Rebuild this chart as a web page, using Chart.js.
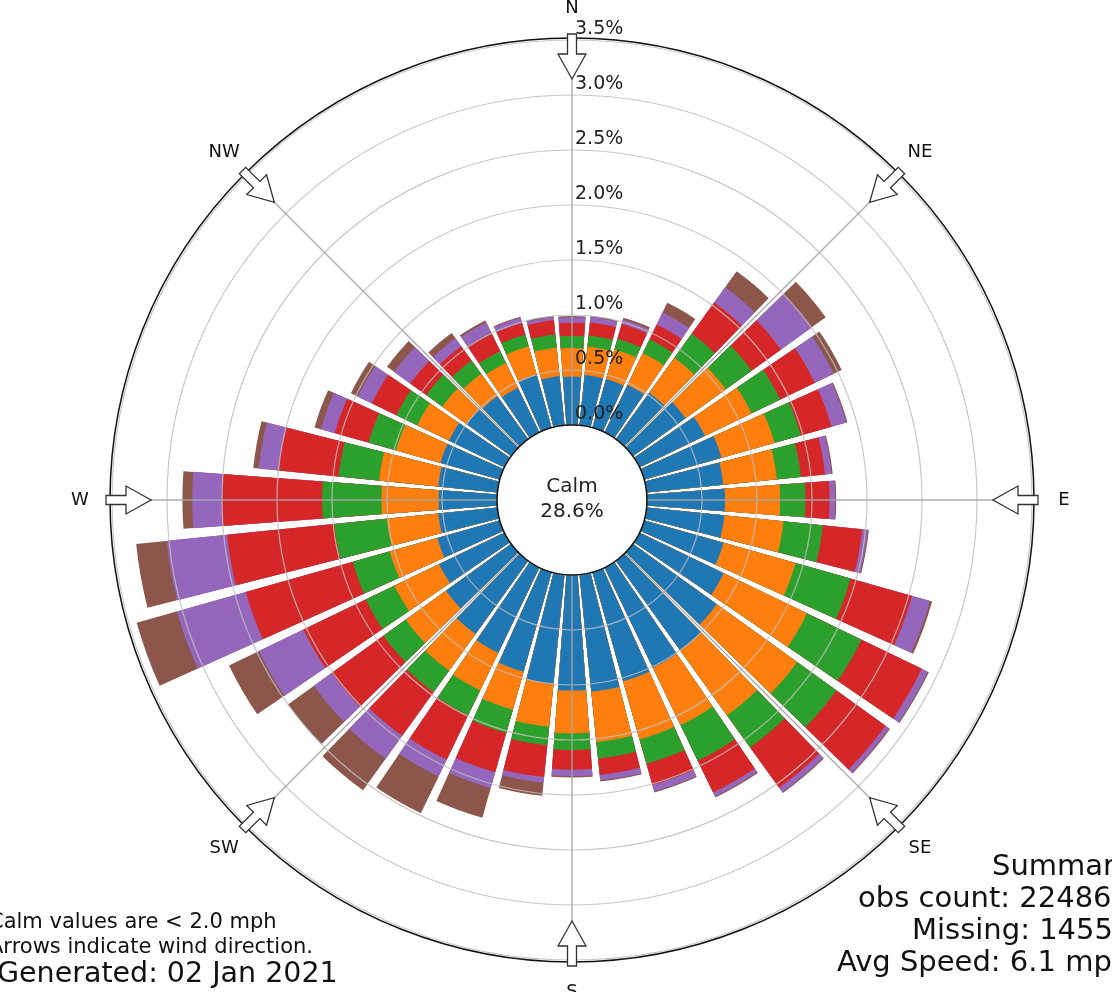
<!DOCTYPE html>
<html>
<head>
<meta charset="utf-8">
<script src="https://cdn.jsdelivr.net/npm/chart.js@4.4.1/dist/chart.umd.min.js"></script>
<style>
  html, body { margin: 0; padding: 0; background: #fff; }
  #wrap { width: 1112px; height: 992px; overflow: hidden; }
</style>
</head>
<body>
<div id="wrap"><canvas id="rose" width="1112" height="992"></canvas></div>
<script>
// wind directions, degrees clockwise from north
const directions = [0, 10, 20, 30, 40, 50, 60, 70, 80, 90, 100, 110, 120, 130, 140, 150, 160, 170,
  180, 190, 200, 210, 220, 230, 240, 250, 260, 270, 280, 290, 300, 310, 320, 330, 340, 350];

// frequency (%) per speed bin, one value per direction
const bin1 = [0.44, 0.46, 0.46, 0.48, 0.52, 0.59, 0.66, 0.73, 0.70, 0.71, 0.71, 0.75, 0.85, 0.94, 1.00, 1.01, 1.03, 1.07,
  1.05, 1.00, 0.94, 0.86, 0.82, 0.73, 0.66, 0.59, 0.54, 0.53, 0.54, 0.56, 0.56, 0.50, 0.48, 0.45, 0.50, 0.45];
const bin2 = [0.26, 0.26, 0.28, 0.32, 0.39, 0.45, 0.47, 0.50, 0.49, 0.50, 0.54, 0.68, 0.84, 0.90, 0.73, 0.58, 0.55, 0.46,
  0.39, 0.39, 0.36, 0.38, 0.41, 0.45, 0.45, 0.45, 0.47, 0.52, 0.54, 0.42, 0.32, 0.27, 0.25, 0.25, 0.27, 0.26];
const bin3 = [0.11, 0.10, 0.10, 0.14, 0.27, 0.29, 0.29, 0.25, 0.22, 0.23, 0.36, 0.52, 0.55, 0.44, 0.36, 0.36, 0.23, 0.15,
  0.15, 0.17, 0.22, 0.25, 0.24, 0.25, 0.29, 0.35, 0.48, 0.54, 0.37, 0.26, 0.21, 0.18, 0.15, 0.12, 0.11, 0.12];
const bin4 = [0.12, 0.12, 0.14, 0.15, 0.35, 0.33, 0.35, 0.29, 0.22, 0.22, 0.36, 0.58, 0.61, 0.55, 0.45, 0.32, 0.20, 0.15,
  0.18, 0.29, 0.37, 0.45, 0.49, 0.58, 0.63, 1.01, 0.98, 0.91, 0.55, 0.32, 0.25, 0.18, 0.16, 0.18, 0.11, 0.13];
const bin5 = [0.05, 0.05, 0.04, 0.12, 0.17, 0.34, 0.19, 0.14, 0.06, 0.05, 0.05, 0.17, 0.06, 0.04, 0.05, 0.04, 0.06, 0.05,
  0.06, 0.05, 0.15, 0.17, 0.26, 0.20, 0.45, 0.65, 0.55, 0.27, 0.18, 0.13, 0.14, 0.18, 0.09, 0.11, 0.05, 0.03];
const bin6 = [0.01, 0.01, 0.02, 0.10, 0.18, 0.16, 0.08, 0.01, 0.01, 0.01, 0.01, 0.02, 0.01, 0.01, 0.01, 0.01, 0.01, 0.01,
  0.01, 0.12, 0.28, 0.37, 0.35, 0.29, 0.30, 0.38, 0.28, 0.09, 0.05, 0.06, 0.07, 0.08, 0.06, 0.02, 0.01, 0.01];

const binColors = ['#1f77b4', '#ff7f0e', '#2ca02c', '#d62728', '#9467bd', '#8c564b'];
const rTicks = [0, 0.5, 1.0, 1.5, 2.0, 2.5, 3.0, 3.5];
const compass = ['N', 'NE', 'E', 'SE', 'S', 'SW', 'W', 'NW'];
const calmPct = 28.6;

const BAR_DEG = 8.5;
const GAP_DEG = 1.5;
const CALM_OFFSET = 0.682; // room left for the calm circle, in % units
const FONT = "'DejaVu Sans', sans-serif";

// polar area arcs all start at the centre, so draw cumulative totals
// with the innermost bin on top; odd slots are the blank gaps
const bins = [bin1, bin2, bin3, bin4, bin5, bin6];
const labels = [];
directions.forEach(d => { labels.push(d + '°'); labels.push(''); });

let running = directions.map(() => 0);
const datasets = bins.map((bin, k) => {
  running = running.map((v, i) => v + bin[i]);
  const data = [];
  running.forEach(v => { data.push(+v.toFixed(3)); data.push(0); });
  return {
    data: data,
    backgroundColor: c => (c.dataIndex % 2 ? 'rgba(0,0,0,0)' : binColors[k]),
    borderWidth: 0,
    angle: c => (c.dataIndex % 2 ? GAP_DEG : BAR_DEG)
  };
});

const roseDecor = {
  id: 'roseDecor',
  afterDraw(chart) {
    const s = chart.scales.r;
    const ctx = chart.ctx;
    const cx = s.xCenter, cy = s.yCenter;
    const r0 = s.getDistanceFromCenterForValue(0);
    const rMax = s.getDistanceFromCenterForValue(s.max);
    const pt = (a, r, across) => [
      cx + r * Math.sin(a) + across * Math.cos(a),
      cy - r * Math.cos(a) + across * Math.sin(a)
    ];
    ctx.save();

    // compass lines
    ctx.strokeStyle = 'rgba(165,165,165,0.95)';
    ctx.lineWidth = 1.4;
    compass.forEach((c, k) => {
      const a = k * Math.PI / 4;
      const p1 = pt(a, r0, 0), p2 = pt(a, rMax + 2, 0);
      ctx.beginPath(); ctx.moveTo(p1[0], p1[1]); ctx.lineTo(p2[0], p2[1]); ctx.stroke();
    });

    // outer frame
    ctx.strokeStyle = '#111';
    ctx.lineWidth = 1.5;
    ctx.beginPath(); ctx.arc(cx, cy, rMax + 2, 0, Math.PI * 2); ctx.stroke();

    // calm circle
    ctx.fillStyle = '#fff';
    ctx.beginPath(); ctx.arc(cx, cy, r0, 0, Math.PI * 2); ctx.fill();
    ctx.strokeStyle = '#111';
    ctx.lineWidth = 1.6;
    ctx.stroke();
    ctx.fillStyle = '#222';
    ctx.font = '20px ' + FONT;
    ctx.textAlign = 'center';
    ctx.textBaseline = 'middle';
    ctx.fillText('Calm', cx, cy - 13);
    ctx.fillText(calmPct.toFixed(1) + '%', cx, cy + 12);

    // radial tick labels
    ctx.font = '19px ' + FONT;
    ctx.textAlign = 'left';
    s.ticks.forEach(t => {
      const r = s.getDistanceFromCenterForValue(t.value);
      ctx.fillText(t.value.toFixed(1) + '%', cx + 3, cy - r - 11);
    });

    // arrows pointing inward and compass labels
    compass.forEach((c, k) => {
      const a = k * Math.PI / 4;
      const shape = [[rMax + 6, -4.5], [rMax - 14, -4.5], [rMax - 14, -14], [rMax - 39, 0],
        [rMax - 14, 14], [rMax - 14, 4.5], [rMax + 6, 4.5]];
      ctx.beginPath();
      shape.forEach((p, i) => {
        const q = pt(a, p[0], p[1]);
        if (i === 0) ctx.moveTo(q[0], q[1]); else ctx.lineTo(q[0], q[1]);
      });
      ctx.closePath();
      ctx.fillStyle = '#fff';
      ctx.fill();
      ctx.strokeStyle = '#333';
      ctx.lineWidth = 1.3;
      ctx.stroke();

      const lp = pt(a, rMax + 32, 0);
      ctx.fillStyle = '#111';
      ctx.font = '18px ' + FONT;
      ctx.textAlign = 'center';
      ctx.textBaseline = 'middle';
      ctx.fillText(c, lp[0], lp[1]);
    });

    // footer notes
    ctx.fillStyle = '#111';
    ctx.textBaseline = 'alphabetic';
    ctx.textAlign = 'left';
    ctx.font = '21px ' + FONT;
    ctx.fillText('Calm values are < 2.0 mph', -11, 928);
    ctx.fillText('Arrows indicate wind direction.', -11, 953);
    ctx.font = '28.5px ' + FONT;
    ctx.fillText('Generated: 02 Jan 2021', -3, 982);

    ctx.font = '29px ' + FONT;
    ctx.fillText('Summary', 992, 875);
    ctx.fillText('obs count: 22486', 858, 907);
    ctx.fillText('Missing: 1455', 912, 939);
    ctx.fillText('Avg Speed: 6.1 mph', 837, 971);
    ctx.restore();
  }
};

new Chart(document.getElementById('rose').getContext('2d'), {
  type: 'polarArea',
  data: { labels: labels, datasets: datasets },
  options: {
    responsive: false,
    animation: false,
    events: [],
    layout: { padding: { left: 112, right: 80, top: 40, bottom: 32 } },
    plugins: {
      legend: { display: false },
      tooltip: { enabled: false }
    },
    scales: {
      r: {
        min: -CALM_OFFSET,
        max: 3.5,
        startAngle: -BAR_DEG / 2,
        ticks: { display: false, stepSize: 0.5 },
        afterBuildTicks: sc => { sc.ticks = rTicks.map(v => ({ value: v })); },
        grid: { circular: true, color: 'rgba(190,190,190,0.85)', lineWidth: 1.2, z: 1 },
        angleLines: { display: false },
        pointLabels: { display: false }
      }
    }
  },
  plugins: [roseDecor]
});
</script>
</body>
</html>
